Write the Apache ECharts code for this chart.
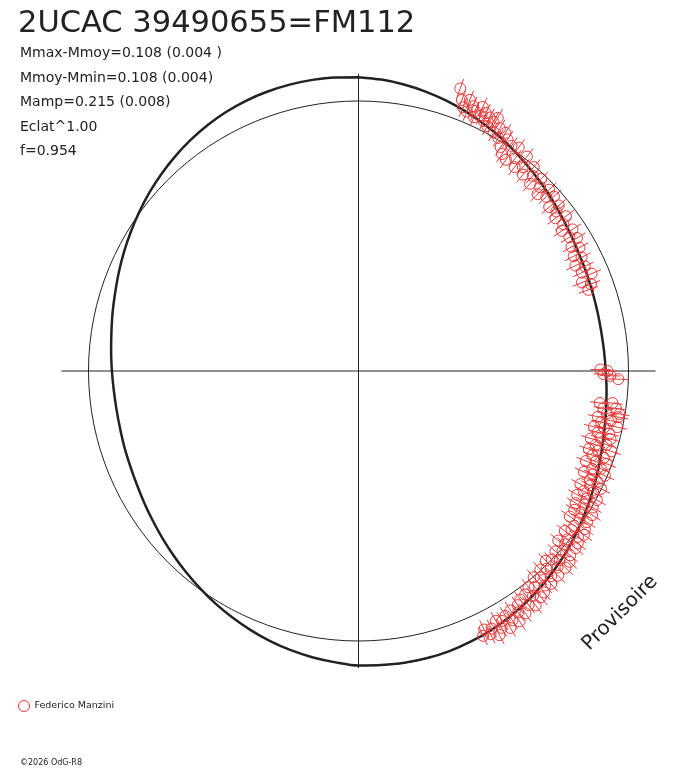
<!DOCTYPE html>
<html>
<head>
<meta charset="utf-8">
<script src="https://cdn.jsdelivr.net/npm/echarts@6/dist/echarts.min.js"></script>
<style>
html, body { margin: 0; padding: 0; background: #fff; }
#chartPolar { width: 688px; height: 768px; }
</style>
</head>
<body>
<div id="chartPolar"></div>
<script>
var starName = '2UCAC 39490655=FM112';
var statLines = [
    'Mmax-Mmoy=0.108 (0.004 )',
    'Mmoy-Mmin=0.108 (0.004)',
    'Mamp=0.215 (0.008)',
    'Eclat^1.00',
    'f=0.954'
];
var observer = 'Federico Manzini';
var copyright = '©2026 OdG-R8';
var stamp = 'Provisoire';

// phase (0..1, depuis le haut, sens horaire) et écart en magnitude
var obsPhase = [
    0.055, 0.058, 0.060, 0.062, 0.063, 0.065, 0.067, 0.068, 0.070, 0.071,
    0.073, 0.074, 0.076, 0.077, 0.079, 0.080, 0.082, 0.084, 0.086, 0.088,
    0.090, 0.091, 0.093, 0.095, 0.097, 0.099, 0.101, 0.104, 0.106, 0.108,
    0.111, 0.113, 0.116, 0.118, 0.121, 0.124, 0.126, 0.129, 0.131, 0.134,
    0.137, 0.140, 0.142, 0.145, 0.148, 0.151, 0.154, 0.157, 0.160, 0.163,
    0.166, 0.169, 0.172, 0.175, 0.178, 0.181, 0.184, 0.187, 0.190, 0.193,
    0.196,
    0.249, 0.250, 0.252, 0.253, 0.255,
    0.270, 0.271, 0.273, 0.274, 0.276, 0.277, 0.278, 0.280, 0.281, 0.283,
    0.284, 0.286, 0.287, 0.289, 0.290, 0.292, 0.293, 0.295, 0.296, 0.298,
    0.299, 0.301, 0.302, 0.304, 0.305, 0.307, 0.308, 0.310, 0.311, 0.313,
    0.314, 0.316, 0.317, 0.319, 0.320, 0.322, 0.323, 0.325, 0.326, 0.328,
    0.329, 0.331, 0.332, 0.334, 0.335, 0.337, 0.338, 0.340, 0.341, 0.343,
    0.344, 0.346, 0.347, 0.349, 0.350, 0.352, 0.353, 0.355, 0.356, 0.358,
    0.359, 0.361, 0.362, 0.364, 0.365, 0.367, 0.368, 0.370, 0.371, 0.373,
    0.374, 0.376, 0.377, 0.379, 0.380, 0.382, 0.383, 0.385, 0.386, 0.388,
    0.389, 0.391, 0.392, 0.394, 0.395, 0.397, 0.398, 0.400, 0.402, 0.404,
    0.405, 0.407, 0.409, 0.410, 0.412, 0.414, 0.415, 0.417, 0.419, 0.420,
    0.422, 0.424, 0.426, 0.428, 0.430
];
var obsMag = [
    0.136, 0.090, 0.061, 0.104, 0.050, 0.083, 0.067, 0.040, 0.098, 0.058,
    0.079, 0.043, 0.069, 0.030, 0.060, 0.085, 0.019, 0.049, 0.008, 0.044,
    -0.021, 0.024, -0.044, 0.010, -0.056, 0.022, -0.026, -0.059, 0.012, -0.036,
    -0.062, -0.005, -0.038, -0.072, -0.022, -0.052, -0.082, -0.031, -0.062, -0.036,
    -0.083, -0.046, -0.071, -0.093, -0.050, -0.081, -0.103, -0.060, -0.091, -0.064,
    -0.105, -0.076, -0.117, -0.088, -0.129, -0.093, -0.116, -0.078, -0.133, -0.098,
    -0.118,
    -0.126, -0.094, -0.112, -0.081, -0.045,
    -0.063, -0.119, -0.044, -0.100, -0.025, -0.081, -0.028, -0.118, -0.057, -0.099,
    -0.023, -0.081, -0.126, -0.052, -0.103, -0.040, -0.085, -0.126, -0.050, -0.097,
    -0.021, -0.079, -0.120, -0.044, -0.096, -0.022, -0.072, -0.114, -0.039, -0.075,
    -0.010, -0.062, -0.103, -0.030, -0.064, -0.002, -0.052, -0.094, -0.026, -0.066,
    0.005, -0.038, -0.084, 0.005, -0.034, -0.071, 0.020, -0.027, -0.060, 0.018,
    -0.017, -0.060, 0.027, -0.020, 0.039, -0.019, 0.023, -0.040, 0.040, -0.008,
    0.046, -0.001, -0.036, 0.048, 0.009, 0.065, -0.013, 0.027, 0.070, 0.000,
    0.043, -0.015, 0.071, 0.013, 0.051, -0.003, 0.077, 0.025, 0.064, 0.003,
    0.085, 0.039, 0.092, 0.023, 0.066, 0.107, 0.040, 0.087, 0.045, 0.109,
    0.059, 0.087, 0.124, 0.061, 0.103, 0.070, 0.128, 0.082, 0.108, 0.068,
    0.132, 0.090, 0.110, 0.078, 0.102
];
var obsErr = 0.045;

// courbe ajustée, relevée tous les 1/80 de phase
var modelPhase = [];
for (var k = 0; k <= 80; k++) {
    modelPhase.push(k / 80);
}
var modelMag = [
    0.107, 0.100, 0.090, 0.078, 0.064, 0.048, 0.031, 0.014, -0.004, -0.022,
    -0.039, -0.055, -0.070, -0.083, -0.093, -0.099, -0.104, -0.107, -0.108, -0.106,
    -0.102, -0.095, -0.087, -0.077, -0.064, -0.048, -0.031, -0.014, 0.004, 0.022,
    0.039, 0.055, 0.070, 0.083, 0.095, 0.103, 0.110, 0.113, 0.114, 0.112,
    0.110, 0.100, 0.090, 0.078, 0.064, 0.048, 0.031, 0.014, -0.004, -0.022,
    -0.039, -0.055, -0.070, -0.083, -0.094, -0.102, -0.107, -0.111, -0.112, -0.110,
    -0.105, -0.098, -0.089, -0.077, -0.064, -0.048, -0.031, -0.014, 0.004, 0.022,
    0.039, 0.055, 0.070, 0.083, 0.094, 0.102, 0.107, 0.110, 0.111, 0.110,
    0.107
];

function setChartPolar() {
    var red = '#e83a3a';
    var ink = '#222';
    var obsData = [];
    for (var i = 0; i < obsPhase.length; i++) {
        obsData.push([obsMag[i], obsPhase[i], obsErr]);
    }
    var modelData = [];
    for (var j = 0; j < modelPhase.length; j++) {
        modelData.push([modelMag[j], modelPhase[j]]);
    }
    var option = {
        animation: false,
        backgroundColor: '#fff',
        title: [{
            text: starName,
            left: 18,
            top: 9,
            padding: 0,
            textStyle: { fontFamily: 'DejaVu Sans', fontSize: 30.5, fontWeight: 'normal', color: ink }
        }, {
            text: statLines.join('\n'),
            left: 20,
            top: 41,
            padding: 0,
            textStyle: { fontFamily: 'DejaVu Sans', fontSize: 14, fontWeight: 'normal', color: ink, lineHeight: 24.6 }
        }],
        legend: {
            left: 18,
            top: 700,
            padding: 0,
            itemWidth: 11,
            itemHeight: 11,
            textStyle: { fontFamily: 'DejaVu Sans', fontSize: 9.5, color: ink },
            data: [{
                name: observer,
                icon: 'circle',
                itemStyle: { color: 'rgba(0,0,0,0)', borderColor: red, borderWidth: 1 }
            }]
        },
        polar: [{
            center: [358.5, 371],
            radius: 297
        }, {
            center: [358.5, 371],
            radius: 270
        }],
        angleAxis: [{
            // phase, avec les deux axes en croix
            polarIndex: 0,
            type: 'value',
            min: 0,
            max: 1,
            interval: 0.25,
            startAngle: 90,
            clockwise: true,
            axisLine: { show: false },
            axisTick: { show: false },
            axisLabel: { show: false },
            splitLine: { show: true, lineStyle: { color: ink, width: 1 } }
        }, {
            // cercle moyen
            polarIndex: 1,
            type: 'value',
            min: 0,
            max: 1,
            startAngle: 90,
            axisLine: { show: true, lineStyle: { color: ink, width: 1 } },
            axisTick: { show: false },
            axisLabel: { show: false },
            splitLine: { show: false }
        }],
        radiusAxis: [{
            polarIndex: 0,
            type: 'value',
            min: -1.2108,
            max: 0.1211,
            show: false,
            splitLine: { show: false }
        }, {
            polarIndex: 1,
            type: 'value',
            min: -1.2108,
            max: 0,
            show: false,
            splitLine: { show: false }
        }],
        series: [{
            name: 'modele',
            type: 'line',
            coordinateSystem: 'polar',
            polarIndex: 0,
            data: modelData,
            smooth: 0.3,
            symbol: 'none',
            clip: false,
            lineStyle: { color: ink, width: 2.5 },
            z: 3
        }, {
            name: observer,
            type: 'custom',
            coordinateSystem: 'polar',
            polarIndex: 0,
            data: obsData,
            itemStyle: { color: red },
            renderItem: function (params, api) {
                var m = api.value(0);
                var ph = api.value(1);
                var e = api.value(2);
                var c = api.coord([m, ph]);
                var a = api.coord([m - e, ph]);
                var b = api.coord([m + e, ph]);
                return {
                    type: 'group',
                    children: [{
                        type: 'line',
                        shape: { x1: a[0], y1: a[1], x2: b[0], y2: b[1] },
                        style: { stroke: red, lineWidth: 1 }
                    }, {
                        type: 'circle',
                        shape: { cx: c[0], cy: c[1], r: 5.5 },
                        style: { fill: 'none', stroke: red, lineWidth: 1 }
                    }]
                };
            },
            z: 4
        }],
        graphic: [{
            type: 'text',
            x: 620,
            y: 613,
            rotation: Math.PI / 4,
            style: { text: stamp, font: '20px "DejaVu Sans"', fill: ink, align: 'center', verticalAlign: 'middle' }
        }, {
            type: 'text',
            x: 20,
            y: 763,
            style: { text: copyright, font: '8px "DejaVu Sans"', fill: ink, align: 'left', verticalAlign: 'middle' }
        }]
    };
    var myChart = echarts.init(document.getElementById('chartPolar'));
    myChart.setOption(option);
}
setChartPolar();
</script>
</body>
</html>
